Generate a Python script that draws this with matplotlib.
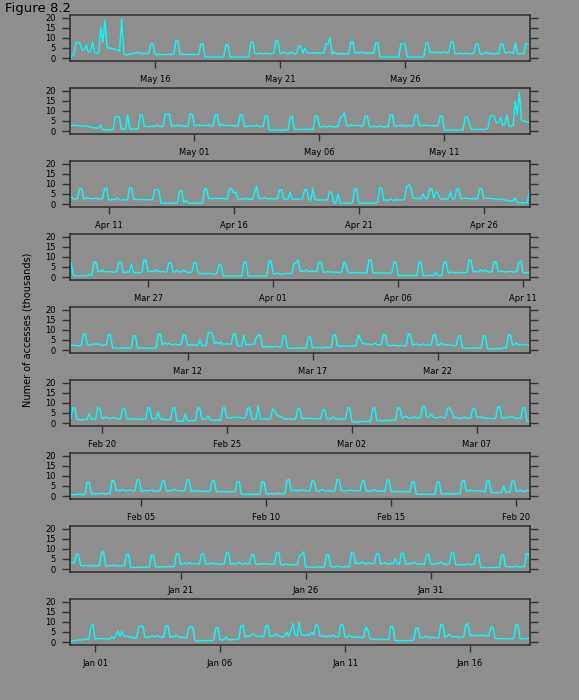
import numpy as np
import pandas as pd
import matplotlib
matplotlib.use("Agg")
import matplotlib.pyplot as plt
import matplotlib.dates as mdates

# accesses (thousands), one row per day, samples at 00,02,...,22 h
dec = [
    [0.5, 0.6, 0.5, 0.8, 1.0, 1.2, 1.1, 1.4, 1.5, 1.3, 7.6, 8.8],
]
jan = [
    [1.5, 1.6, 1.8, 1.7, 1.8, 1.6, 1.7, 1.5, 2.6, 1.6, 3.4, 5.5],
    [3.0, 5.2, 2.8, 3.0, 2.6, 2.5, 2.2, 2.1, 2.0, 7.6, 8.1, 7.8],
    [2.2, 2.5, 2.3, 2.8, 3.1, 2.6, 3.2, 2.5, 2.4, 2.5, 7.9, 8.2],
    [2.4, 2.8, 2.5, 3.5, 2.6, 2.3, 2.5, 2.2, 2.0, 6.8, 7.6, 7.3],
    [0.8, 0.6, 0.5, 0.6, 0.7, 0.8, 0.7, 0.8, 0.7, 1.0, 7.0, 7.2],
    [1.2, 1.0, 1.3, 2.5, 1.0, 1.2, 1.3, 1.1, 1.4, 1.5, 7.8, 8.4],
    [2.5, 3.0, 2.8, 3.5, 4.0, 3.2, 2.8, 3.0, 2.6, 2.8, 8.0, 8.3],
    [2.8, 3.0, 3.2, 4.0, 3.0, 2.8, 2.5, 3.0, 5.0, 3.0, 5.6, 9.2],
    [3.5, 3.0, 9.8, 3.5, 3.6, 3.2, 3.8, 3.4, 5.0, 3.5, 8.5, 8.2],
    [3.0, 2.8, 3.2, 2.6, 3.0, 2.7, 3.4, 2.9, 2.6, 2.8, 8.8, 8.6],
    [2.5, 2.4, 3.5, 2.6, 2.5, 2.3, 2.6, 2.4, 2.3, 2.4, 7.5, 6.0],
    [1.8, 1.5, 1.4, 1.2, 1.3, 1.5, 1.4, 1.3, 1.2, 1.3, 8.0, 7.6],
    [0.8, 0.7, 0.5, 0.6, 0.6, 0.7, 0.8, 0.7, 0.8, 1.0, 6.8, 7.0],
    [2.0, 2.2, 2.5, 3.0, 2.3, 2.1, 2.4, 2.2, 2.0, 2.1, 8.9, 8.5],
    [2.4, 2.8, 4.0, 3.0, 2.5, 2.7, 2.6, 2.4, 2.5, 2.6, 8.8, 9.0],
    [3.2, 3.4, 3.1, 3.6, 3.0, 3.3, 3.5, 3.1, 3.3, 3.0, 7.5, 7.3],
    [1.8, 1.6, 1.7, 1.9, 1.6, 1.5, 1.8, 1.7, 1.6, 1.8, 8.3, 8.6],
    [1.7, 1.5, 1.8, 1.6, 1.9, 1.7, 1.5, 1.6, 1.8, 1.7, 7.2, 7.4],
    [0.9, 0.8, 0.7, 0.9, 0.8, 1.0, 0.9, 0.8, 1.1, 1.0, 7.0, 6.8],
    [1.0, 1.2, 0.9, 1.1, 1.3, 1.0, 1.2, 1.4, 1.1, 1.3, 7.6, 7.8],
    [2.4, 2.6, 2.9, 2.5, 3.2, 2.7, 2.5, 2.8, 2.6, 2.4, 7.4, 7.7],
    [2.6, 2.4, 2.7, 3.0, 2.5, 2.8, 2.6, 2.3, 2.5, 2.7, 8.2, 7.9],
    [2.3, 2.8, 2.5, 2.7, 3.3, 2.6, 2.4, 2.9, 2.5, 2.6, 7.1, 7.3],
    [2.5, 2.3, 2.6, 2.4, 2.8, 2.5, 2.7, 2.4, 2.3, 2.5, 8.0, 8.4],
    [2.2, 2.0, 2.3, 2.5, 2.1, 2.4, 2.2, 2.0, 2.1, 6.5, 7.3, 8.5],
    [1.0, 0.9, 1.1, 0.8, 1.0, 0.9, 1.2, 1.0, 0.9, 1.1, 6.9, 7.2],
    [1.3, 1.1, 1.0, 1.2, 1.4, 1.1, 1.0, 1.3, 1.2, 1.1, 8.1, 7.6],
    [2.7, 3.0, 2.6, 3.6, 2.8, 2.5, 3.1, 2.7, 2.6, 2.8, 7.5, 7.8],
    [2.5, 2.8, 3.2, 2.6, 2.4, 2.9, 2.7, 5.1, 2.6, 2.5, 8.0, 7.7],
    [2.4, 2.6, 2.8, 2.5, 3.4, 2.7, 2.4, 2.6, 2.5, 2.3, 7.2, 7.5],
    [2.6, 2.3, 2.7, 2.5, 2.9, 3.5, 2.6, 2.4, 2.5, 2.6, 8.3, 8.0],
]
feb = [
    [2.3, 2.1, 2.4, 2.2, 2.0, 2.3, 2.5, 2.1, 2.2, 2.4, 7.4, 7.1],
    [0.8, 0.7, 0.9, 0.6, 0.8, 0.7, 0.9, 0.8, 0.7, 0.9, 6.8, 7.0],
    [1.1, 1.3, 1.0, 1.2, 1.1, 1.4, 1.2, 1.0, 1.3, 1.2, 7.7, 7.5],
    [2.6, 2.9, 2.5, 3.3, 2.7, 2.6, 3.0, 2.8, 2.5, 2.7, 7.9, 8.2],
    [2.4, 2.6, 2.8, 2.5, 2.7, 3.1, 2.6, 2.4, 2.5, 2.6, 7.3, 7.6],
    [2.7, 2.5, 2.9, 2.6, 3.5, 2.8, 2.6, 2.7, 2.5, 2.8, 8.1, 7.8],
    [2.3, 2.5, 2.4, 2.7, 2.5, 2.3, 2.6, 2.4, 2.2, 2.4, 7.5, 7.7],
    [2.1, 2.3, 2.0, 2.4, 2.2, 2.1, 2.3, 2.0, 2.2, 2.1, 7.0, 7.3],
    [0.9, 0.8, 1.0, 0.7, 0.9, 0.8, 1.0, 0.9, 0.8, 1.0, 7.2, 6.9],
    [1.2, 1.0, 1.3, 1.1, 1.2, 1.0, 1.4, 1.2, 1.1, 1.3, 7.9, 8.1],
    [2.5, 2.8, 3.0, 2.6, 2.9, 2.7, 3.2, 2.6, 2.5, 2.7, 7.6, 7.4],
    [2.6, 2.4, 2.7, 3.4, 2.5, 2.6, 2.8, 2.5, 2.4, 2.6, 8.2, 8.0],
    [2.8, 2.6, 2.5, 2.9, 2.7, 3.0, 2.6, 2.8, 2.5, 2.7, 7.4, 7.7],
    [2.4, 2.7, 2.5, 2.6, 3.2, 2.5, 2.4, 2.6, 2.3, 2.5, 7.8, 8.1],
    [2.2, 2.0, 2.4, 2.1, 2.3, 2.2, 2.0, 2.3, 2.1, 2.2, 7.2, 7.0],
    [0.9, 1.0, 0.8, 0.9, 1.1, 0.8, 0.9, 1.0, 0.8, 1.0, 6.9, 7.1],
    [1.1, 1.2, 1.0, 1.3, 1.1, 1.2, 1.0, 1.2, 1.3, 1.1, 7.5, 7.8],
    [2.5, 2.7, 2.9, 2.6, 2.8, 2.5, 2.7, 2.6, 2.4, 2.0, 7.5, 7.6],
    [1.8, 1.7, 1.6, 1.8, 1.7, 1.9, 5.0, 1.8, 2.0, 2.0, 7.5, 7.4],
    [2.3, 2.5, 3.0, 2.4, 2.2, 2.8, 2.5, 2.3, 2.1, 2.2, 7.0, 7.1],
    [2.0, 2.1, 1.9, 2.0, 2.2, 2.0, 1.9, 2.0, 1.8, 2.0, 7.5, 7.6],
    [2.0, 2.1, 2.2, 5.5, 2.0, 1.8, 1.9, 1.6, 1.7, 1.8, 7.4, 7.6],
    [1.0, 0.9, 0.8, 1.0, 4.5, 1.2, 1.1, 1.3, 1.2, 1.4, 7.5, 7.3],
    [2.0, 1.9, 2.0, 3.5, 1.6, 1.5, 1.4, 1.5, 1.6, 1.5, 7.4, 7.6],
    [2.8, 2.6, 2.5, 3.0, 2.7, 2.8, 3.0, 2.6, 2.5, 2.7, 7.5, 7.4],
    [2.2, 2.0, 2.1, 8.5, 2.1, 2.0, 2.2, 1.9, 2.0, 2.3, 7.0, 6.0],
    [3.8, 3.5, 3.2, 2.3, 2.1, 2.0, 2.2, 1.9, 2.0, 2.1, 7.0, 7.1],
    [2.3, 2.2, 2.5, 2.1, 2.4, 2.2, 2.3, 2.1, 2.2, 2.3, 6.5, 6.6],
]
mar = [
    [2.1, 2.0, 2.2, 3.0, 2.1, 2.0, 2.2, 2.0, 1.9, 2.2, 7.5, 7.6],
    [0.8, 0.7, 0.6, 0.5, 0.7, 0.8, 0.6, 0.9, 0.8, 0.9, 7.4, 7.5],
    [1.2, 1.1, 1.3, 1.2, 1.0, 1.4, 1.3, 1.2, 1.5, 1.4, 7.6, 7.4],
    [2.5, 2.8, 3.5, 2.6, 2.4, 2.7, 3.0, 2.6, 2.5, 2.8, 8.5, 8.2],
    [2.8, 3.0, 4.5, 2.9, 2.7, 2.6, 2.9, 3.1, 2.6, 2.8, 7.5, 7.4],
    [5.5, 2.5, 2.8, 2.4, 2.2, 2.6, 2.9, 2.3, 2.4, 2.5, 7.0, 7.1],
    [3.0, 2.8, 3.0, 2.7, 2.5, 2.3, 2.5, 2.2, 2.1, 2.3, 7.8, 8.0],
    [2.6, 2.4, 2.8, 3.0, 2.9, 3.1, 2.6, 2.3, 2.5, 2.4, 7.5, 7.6],
    [1.0, 0.9, 1.1, 0.8, 1.0, 1.1, 0.9, 1.0, 0.9, 1.1, 7.0, 7.1],
    [1.0, 0.9, 1.1, 1.0, 0.8, 1.0, 1.1, 0.9, 1.0, 1.2, 8.0, 7.8],
    [2.6, 3.5, 2.9, 3.2, 2.8, 2.6, 3.0, 2.7, 2.6, 2.8, 7.5, 7.3],
    [2.3, 2.5, 2.8, 2.4, 2.6, 2.2, 5.0, 2.1, 2.3, 2.5, 8.6, 8.9],
    [8.0, 3.0, 4.0, 3.1, 4.0, 3.0, 2.9, 3.2, 2.8, 3.0, 8.0, 7.8],
    [2.2, 2.0, 2.1, 7.5, 2.5, 2.8, 2.6, 3.0, 2.7, 6.0, 7.5, 7.3],
    [1.6, 1.5, 1.8, 1.7, 1.5, 1.6, 1.9, 1.7, 1.5, 1.6, 7.0, 7.1],
    [1.0, 0.9, 1.1, 0.8, 1.0, 0.9, 1.1, 1.0, 0.9, 1.0, 6.5, 6.4],
    [1.2, 1.4, 1.1, 1.3, 1.2, 1.0, 1.4, 1.3, 1.2, 1.4, 7.5, 7.6],
    [2.0, 2.1, 1.9, 2.2, 2.0, 2.1, 1.9, 2.2, 2.0, 2.1, 7.5, 5.5],
    [3.0, 3.5, 2.8, 3.2, 2.6, 2.9, 3.4, 2.7, 2.5, 2.6, 7.6, 7.4],
    [2.2, 2.4, 2.1, 2.5, 2.3, 2.0, 2.4, 2.2, 2.1, 2.3, 8.0, 7.9],
    [2.5, 2.8, 3.0, 2.6, 2.4, 2.9, 2.7, 2.5, 2.3, 2.5, 7.5, 7.6],
    [2.4, 2.6, 3.5, 2.5, 2.8, 2.4, 2.6, 2.3, 2.2, 2.4, 7.0, 7.1],
    [1.0, 0.9, 1.1, 1.0, 0.8, 1.0, 0.9, 1.1, 0.9, 1.0, 7.0, 7.1],
    [0.8, 0.6, 0.7, 0.5, 0.6, 0.8, 0.7, 0.6, 1.5, 0.8, 7.5, 7.4],
    [2.6, 2.8, 3.5, 2.7, 2.5, 2.9, 2.6, 2.4, 2.5, 2.6, 7.5, 7.6],
    [2.3, 2.2, 2.5, 2.4, 6.5, 2.2, 2.3, 2.1, 2.2, 2.4, 8.5, 8.3],
    [2.6, 2.8, 3.0, 2.7, 3.5, 2.8, 2.6, 2.9, 2.5, 2.7, 7.0, 7.1],
    [2.4, 2.8, 3.5, 2.6, 2.5, 3.5, 2.7, 2.4, 2.3, 2.5, 7.0, 6.9],
    [1.8, 1.7, 1.9, 1.6, 1.8, 1.7, 1.9, 1.6, 1.5, 1.7, 6.0, 5.9],
    [0.6, 0.5, 0.6, 0.4, 0.5, 0.6, 0.5, 0.4, 0.5, 0.6, 7.5, 7.4],
    [0.6, 0.5, 0.4, 0.5, 0.6, 0.5, 0.4, 0.6, 0.5, 0.6, 8.0, 7.8],
]
apr = [
    [1.8, 1.6, 1.9, 1.7, 1.5, 1.8, 1.6, 1.9, 1.7, 1.8, 6.5, 7.0],
    [8.5, 2.8, 3.0, 2.6, 3.5, 2.9, 2.7, 3.1, 2.6, 2.8, 7.5, 7.4],
    [2.5, 2.3, 2.8, 2.4, 2.6, 2.2, 2.5, 2.3, 2.4, 2.6, 7.5, 6.0],
    [2.2, 2.0, 2.3, 2.1, 2.4, 2.0, 2.2, 2.1, 2.0, 2.2, 8.6, 8.5],
    [2.0, 2.1, 1.9, 2.2, 2.0, 1.9, 2.1, 2.0, 1.9, 2.0, 7.5, 7.4],
    [0.8, 0.7, 0.6, 0.8, 0.7, 0.9, 0.6, 0.8, 0.7, 0.9, 7.5, 7.2],
    [0.7, 0.6, 0.8, 0.7, 0.9, 0.7, 2.5, 0.8, 0.7, 0.9, 7.5, 7.6],
    [2.1, 2.3, 2.5, 2.2, 2.0, 2.4, 2.3, 2.1, 2.2, 2.3, 8.5, 8.4],
    [2.5, 2.8, 2.6, 3.0, 3.5, 2.7, 3.5, 2.6, 2.5, 2.7, 7.5, 7.6],
    [2.6, 2.8, 3.0, 2.7, 2.5, 2.9, 2.8, 2.6, 2.5, 2.7, 7.5, 7.8],
    [2.1, 2.0, 2.3, 2.2, 3.0, 2.1, 2.0, 2.2, 2.1, 2.0, 8.0, 7.9],
    [2.2, 2.4, 2.1, 2.3, 2.5, 2.2, 2.0, 2.3, 2.1, 2.2, 7.0, 7.1],
    [7.0, 0.5, 0.6, 0.4, 0.5, 0.6, 0.5, 0.4, 0.5, 0.6, 6.5, 6.6],
    [0.5, 2.0, 0.6, 0.5, 0.4, 0.6, 0.5, 0.4, 0.5, 0.6, 7.5, 7.4],
    [2.6, 2.8, 2.5, 3.0, 2.7, 2.9, 2.6, 2.8, 2.5, 2.7, 7.5, 7.6],
    [5.5, 6.0, 2.5, 2.2, 2.8, 2.4, 3.0, 2.3, 2.5, 2.2, 6.0, 8.8],
    [2.8, 2.6, 2.9, 3.0, 2.7, 2.5, 2.8, 2.6, 2.5, 2.7, 7.0, 7.1],
    [2.5, 2.4, 2.6, 6.0, 2.5, 2.3, 2.6, 2.4, 2.5, 2.6, 7.0, 7.2],
    [2.2, 2.0, 8.0, 2.1, 2.0, 1.9, 2.2, 2.0, 2.1, 2.0, 6.0, 5.8],
    [0.6, 0.5, 5.0, 0.5, 0.6, 0.4, 0.5, 0.6, 0.5, 0.6, 7.5, 7.4],
    [0.5, 0.6, 0.4, 0.5, 0.6, 0.5, 0.4, 0.6, 0.5, 0.7, 8.0, 7.9],
    [1.8, 2.2, 1.6, 2.5, 2.0, 1.7, 2.3, 1.9, 2.1, 2.0, 2.4, 8.6],
    [9.5, 8.0, 3.0, 2.8, 2.6, 3.0, 2.7, 5.0, 2.8, 2.6, 7.5, 7.6],
    [3.0, 6.0, 5.5, 2.8, 2.5, 2.6, 2.4, 2.7, 6.0, 2.5, 2.6, 7.5],
    [7.4, 2.8, 2.6, 3.0, 2.7, 2.9, 2.5, 2.8, 2.6, 2.7, 7.5, 7.6],
    [3.0, 2.8, 2.9, 2.7, 2.8, 2.6, 2.5, 2.4, 2.5, 2.3, 2.0, 1.8],
    [1.6, 1.5, 1.4, 3.0, 0.8, 0.6, 0.7, 0.5, 0.6, 0.8, 7.0, 7.2],
    [7.0, 1.0, 1.1, 1.0, 8.0, 1.0, 0.9, 1.0, 1.1, 1.0, 8.0, 7.9],
    [2.2, 2.4, 2.0, 2.3, 2.5, 2.2, 3.0, 2.4, 2.2, 2.3, 8.5, 8.4],
    [8.5, 2.5, 2.8, 2.6, 3.0, 2.4, 2.7, 2.5, 2.3, 2.6, 8.5, 8.4],
]
may = [
    [2.6, 2.8, 3.0, 2.7, 2.9, 2.6, 2.8, 3.0, 2.5, 2.7, 8.0, 8.1],
    [2.6, 3.5, 2.8, 2.7, 3.0, 2.6, 2.8, 2.5, 2.7, 2.6, 8.0, 7.9],
    [2.4, 2.2, 2.6, 2.8, 2.3, 2.5, 3.0, 2.2, 2.4, 2.3, 7.5, 7.6],
    [0.6, 0.5, 0.4, 0.5, 0.6, 0.5, 0.4, 0.5, 0.6, 0.5, 7.0, 7.1],
    [0.8, 0.7, 0.9, 0.6, 0.8, 1.0, 0.7, 0.8, 0.9, 0.8, 7.5, 7.6],
    [2.2, 2.0, 2.4, 2.3, 2.1, 2.5, 2.2, 2.0, 2.3, 2.2, 7.0, 7.1],
    [9.0, 2.8, 2.6, 3.0, 2.7, 2.9, 2.6, 2.8, 2.5, 2.7, 7.5, 7.4],
    [2.2, 2.0, 2.4, 2.3, 2.1, 2.5, 2.2, 2.0, 2.3, 2.2, 8.0, 8.1],
    [2.6, 2.3, 2.8, 3.0, 2.5, 2.7, 2.4, 2.9, 2.6, 2.5, 8.0, 7.9],
    [2.8, 2.6, 3.0, 2.7, 2.9, 2.5, 2.8, 2.6, 2.7, 2.8, 7.5, 7.4],
    [0.6, 0.5, 0.4, 0.5, 0.6, 0.5, 0.4, 0.5, 0.6, 0.5, 7.0, 7.1],
    [3.5, 0.8, 0.7, 0.9, 0.6, 1.0, 0.8, 0.7, 0.9, 1.5, 7.5, 7.8],
    [7.2, 4.0, 4.2, 6.5, 3.0, 3.2, 8.0, 2.6, 2.4, 2.8, 15.0, 8.0],
    [19.0, 5.2, 5.0, 4.8, 4.5, 4.2, 4.0, 3.5, 19.5, 2.0, 1.5, 1.6],
    [2.2, 2.0, 2.4, 2.5, 3.0, 2.3, 2.1, 2.4, 2.2, 2.3, 7.0, 7.1],
    [1.8, 1.6, 2.0, 1.7, 1.9, 1.5, 1.8, 2.0, 1.7, 1.8, 8.5, 8.4],
    [1.8, 2.0, 1.6, 1.9, 1.7, 1.8, 2.0, 1.6, 1.8, 1.7, 7.0, 7.1],
    [0.6, 0.5, 0.4, 0.5, 0.6, 0.5, 0.4, 0.5, 0.6, 0.5, 6.5, 6.6],
    [0.5, 0.6, 0.4, 0.5, 0.6, 0.5, 0.4, 0.6, 0.5, 0.6, 8.0, 7.9],
    [2.2, 2.0, 2.4, 2.3, 2.1, 2.5, 2.2, 2.0, 2.3, 2.2, 8.5, 8.4],
    [2.2, 2.5, 3.0, 2.3, 2.1, 3.0, 2.4, 2.2, 2.3, 6.0, 5.8, 2.4],
    [5.0, 2.5, 2.6, 2.4, 2.5, 2.7, 2.4, 2.6, 2.5, 2.4, 7.0, 7.1],
    [10.0, 2.0, 3.0, 2.2, 2.1, 2.3, 2.0, 2.2, 2.1, 2.0, 8.0, 8.1],
    [2.4, 2.8, 2.5, 3.0, 2.6, 2.4, 2.7, 2.5, 2.3, 2.5, 7.5, 7.4],
    [0.6, 0.5, 0.4, 0.5, 0.6, 0.5, 0.4, 0.5, 0.6, 0.5, 7.0, 7.1],
    [7.0, 0.5, 0.4, 0.6, 0.5, 0.6, 0.4, 0.5, 0.6, 0.5, 7.5, 7.4],
    [2.6, 2.8, 3.0, 2.7, 2.9, 2.6, 2.8, 3.0, 2.5, 2.7, 8.0, 8.1],
    [2.2, 2.0, 2.4, 2.3, 2.1, 2.5, 2.2, 2.0, 2.3, 2.2, 7.0, 7.1],
    [2.2, 2.0, 2.4, 3.0, 2.1, 2.5, 2.2, 2.0, 2.3, 2.2, 7.0, 6.9],
    [2.5, 2.8, 3.0, 2.6, 2.4, 7.5, 2.2, 2.0, 2.3, 2.2, 7.0, 7.0],
]

start = pd.Timestamp("2001-12-31")
tick_dates = pd.date_range("2002-01-01", periods=30, freq="5D")
n_panels = 9
step_days = 16.575
span_days = 18.4

values = np.concatenate([np.ravel(m) for m in (dec, jan, feb, mar, apr, may)])
times = pd.date_range(start, periods=len(values), freq="2h")

bg = "#8e8e8e"
edge = "#333333"

fig = plt.figure(figsize=(5.79, 7.0), dpi=100, facecolor=bg)
W, H = 579.0, 700.0

for j in range(n_panels):
    i = n_panels - 1 - j          # top panel holds the latest window
    top = 15.3 + 73.0 * j
    ax = fig.add_axes([70 / W, 1 - (top + 45.4) / H, 460 / W, 45.4 / H])
    ax.set_facecolor(bg)
    ax.plot(times, values, color="#00ffff", lw=1.0)
    x0 = start + pd.Timedelta(days=step_days * i)
    x1 = x0 + pd.Timedelta(days=span_days)
    ticks = [t for t in tick_dates if x0 <= t <= x1]
    ax.set_xticks(ticks)
    ax.xaxis.set_major_formatter(mdates.DateFormatter("%b %d"))
    ax.set_xlim(x0, x1)
    ax.set_ylim(-1.3, 21.2)
    ax.set_yticks([0, 5, 10, 15, 20])
    ax.tick_params(axis="x", direction="out", length=5.3, width=1.0,
                   color=edge, labelsize=6, pad=5, top=False)
    ax.tick_params(axis="y", direction="out", length=6, width=1.0,
                   color=edge, labelsize=6, pad=4.5, right=True)
    for s in ax.spines.values():
        s.set_color(edge)
        s.set_linewidth(1.2)

fig.text(5 / W, 1 - 2 / H, "Figure 8.2", fontsize=9.5, va="top", ha="left")
fig.text(28 / W, 1 - 330 / H, "Numer of accesses (thousands)", fontsize=7,
         rotation=90, va="center", ha="center")

plt.savefig("out.png", dpi=100, facecolor=bg)
